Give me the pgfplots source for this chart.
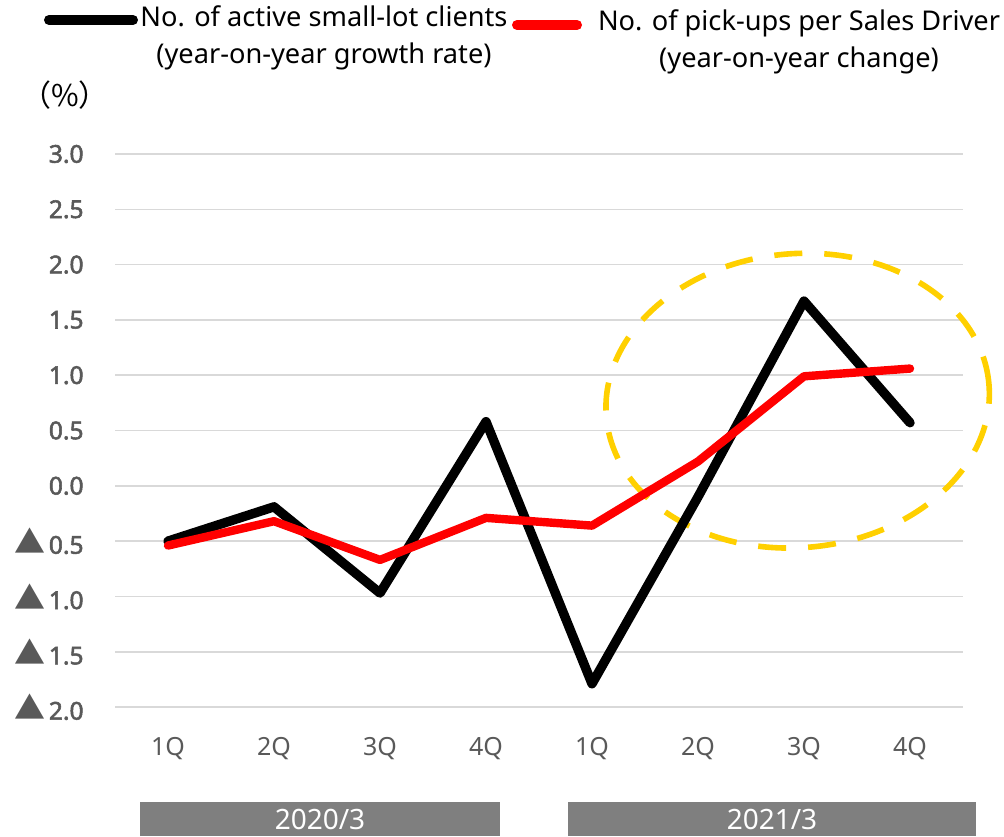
\documentclass[border=0pt]{standalone}
\usepackage{pgfplots}
\pgfplotsset{compat=1.18}
\usepackage{fontspec}
\setmainfont{Noto Sans}
\newfontfamily\tickbf{Noto Sans}[FakeBold=2.2]
\newfontfamily\cjk{Noto Sans CJK JP}
\definecolor{tickgray}{RGB}{89,89,89}
\definecolor{gridgray}{RGB}{217,217,217}
\definecolor{bargray}{RGB}{127,127,127}
\definecolor{ellyellow}{RGB}{255,208,0}
\newcommand{\tri}{{\cjk\fontsize{15.5}{16}\selectfont ▲}\hspace{1.5pt}}
\begin{document}
\begin{tikzpicture}
\useasboundingbox (-57.5pt,-64.5pt) rectangle (444.5pt,353.5pt);
\begin{axis}[
  scale only axis, width=424pt, height=276.5pt,
  xmin=-0.5, xmax=7.5, ymin=-2, ymax=3,
  clip=false,
  axis line style={draw=none},
  major tick length=0pt,
  xtick={0,...,7},
  xticklabels={1Q,2Q,3Q,4Q,1Q,2Q,3Q,4Q},
  ytick={-2,-1.5,-1,-0.5,0,0.5,1,1.5,2,2.5,3},
  yticklabels={\tri 2.0,\tri 1.5,\tri 1.0,\tri 0.5,0.0,0.5,1.0,1.5,2.0,2.5,3.0},
  ymajorgrids,
  grid style={gridgray, line width=0.8pt},
  yticklabel style={font=\tickbf\fontsize{12.3}{14}\selectfont, text=tickgray, inner sep=0pt, anchor=east, xshift=-15.5pt},
  xticklabel style={font=\fontsize{12.5}{14}\selectfont, text=tickgray, inner sep=0pt, anchor=north, yshift=-15pt},
]
\draw[ellyellow, line width=2.8pt, dash pattern=on 14pt off 11pt, rotate around={5:(axis cs:5.94,0.77)}] (axis cs:5.94,0.77) ellipse [x radius=96pt, y radius=73.5pt];
\addplot[black, line width=4.7pt, line join=round, line cap=round] coordinates {(0,-0.50)(1,-0.19)(2,-0.97)(3,0.58)(4,-1.79)(5,-0.10)(6,1.67)(7,0.57)};
\addplot[red, line width=4.2pt, line join=round, line cap=round] coordinates {(0,-0.54)(1,-0.32)(2,-0.67)(3,-0.29)(4,-0.36)(5,0.22)(6,0.99)(7,1.06)};
\end{axis}
% legend
\draw[black, line width=5pt, line cap=round] (-33pt,343.5pt) -- (9pt,343.5pt);
\node[align=center, font=\fontsize{13.6}{18.5}\selectfont, inner sep=0pt] at (104.5pt,334.5pt) {No. of active small-lot clients\\(year-on-year growth rate)};
\draw[red, line width=5pt, line cap=round] (201pt,341pt) -- (231pt,341pt);
\node[align=center, font=\fontsize{13.6}{18.5}\selectfont, inner sep=0pt] at (342pt,332.5pt) {No. of pick-ups per Sales Driver\\(year-on-year change)};
\node[font=\fontsize{15}{16}\selectfont, inner sep=0pt] at (-25pt,306pt) {\cjk （\%）};
% year bars
\fill[bargray] (12.5pt,-47.5pt) rectangle (192.5pt,-64.5pt);
\fill[bargray] (226.5pt,-47.5pt) rectangle (430.5pt,-64.5pt);
\node[text=white, font=\fontsize{14}{15}\selectfont, inner sep=0pt] at (102.5pt,-56pt) {2020/3};
\node[text=white, font=\fontsize{14}{15}\selectfont, inner sep=0pt] at (328.5pt,-56pt) {2021/3};
\end{tikzpicture}
\end{document}
